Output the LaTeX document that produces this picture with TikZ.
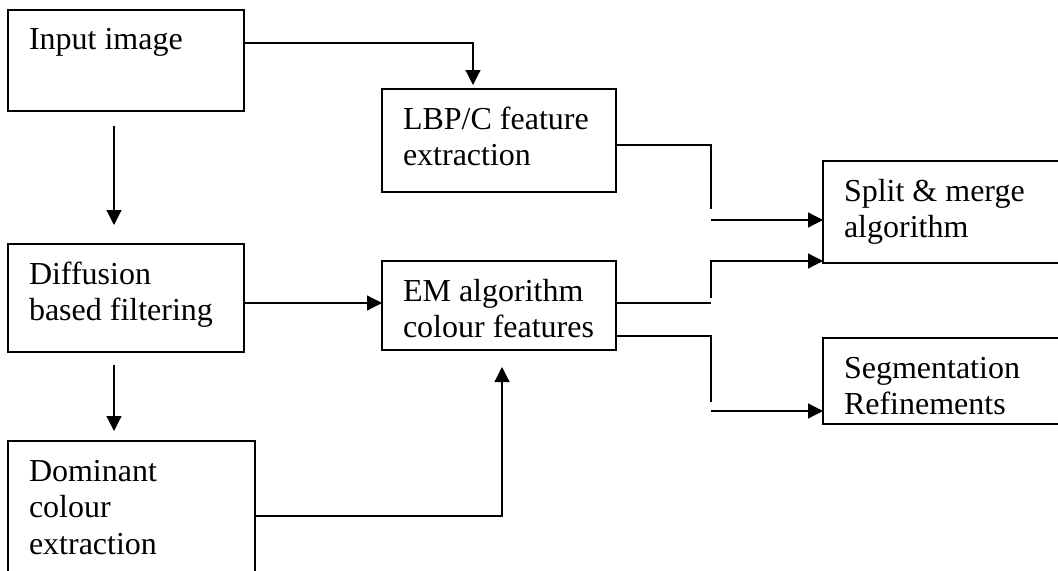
\documentclass[tikz,border=0pt]{standalone}
\usepackage{fontspec}
\setmainfont{Liberation Serif}
\usetikzlibrary{arrows.meta,calc}
% box content: width, height, lines; text set from the top, indented
\newcommand\boxtext[3]{\parbox[t][#2][t]{#1}{\raggedright\leftskip=15.75pt\rule{0pt}{30pt}#3}}
\begin{document}
\begin{tikzpicture}[x=0.75pt,y=-0.75pt,
  box/.style={draw, line width=0.9pt, inner sep=0pt, outer sep=0pt, anchor=north west,
    font=\fontsize{24pt}{27.4pt}\selectfont},
  link/.style={line width=0.9pt},
  flow/.style={link, -{Triangle[length=11.25pt,width=11.25pt]}}]
\clip (0,0) rectangle (1058,571);

% processing stages
\node[box] (input) at (8,10)   {\boxtext{177pt}{75.75pt}{Input image}};
\node[box] (lbp)   at (382,89) {\boxtext{175.5pt}{77.25pt}{LBP/C feature\\extraction}};
\node[box] (diff)  at (8,244)  {\boxtext{177pt}{81pt}{Diffusion\\based filtering}};
\node[box] (em)    at (382,261){\boxtext{175.5pt}{66.75pt}{EM algorithm\\colour features}};
\node[box] (dom)   at (8,441)  {\boxtext{185.25pt}{120pt}{Dominant\\colour\\extraction}};
\node[box] (split) at (823,161){\boxtext{195pt}{76.5pt}{Split \& merge\\algorithm}};
\node[box] (seg)   at (823,338){\boxtext{195pt}{64.5pt}{Segmentation\\Refinements}};

% left column
\draw[flow, shorten >=3pt] ($(input.north east)+(0,33)$) -| ($(lbp.north west)+(91,0)$);
\draw[flow, shorten <=11.25pt, shorten >=14.25pt] ($(input.south west)+(106,0)$) -- ($(diff.north west)+(106,0)$);
\draw[flow, shorten <=9.75pt, shorten >=7.5pt] ($(diff.south west)+(106,0)$) -- ($(dom.north west)+(106,0)$);
\draw[flow] ($(diff.north east)+(0,59)$) -- ($(em.north west)+(0,42)$);
\draw[flow, shorten >=12.75pt] ($(dom.north east)+(0,75)$) -| ($(em.south west)+(120,0)$);

% joints of the right-hand connectors
\coordinate (bendA) at (711,209);
\coordinate (bendB) at (711,220);
\coordinate (bendC) at (711,303);
\coordinate (bendD) at (711,298);
\coordinate (bendE) at (711,402);
\coordinate (bendF) at (711,411);

\draw[link] ($(lbp.north east)+(0,56)$) -| (bendA);
\draw[flow] (bendB) -- (bendB -| split.west);
\draw[link] ($(em.north east)+(0,42)$) -- (bendC);
\draw[flow] (bendD) |- ($(split.south west)+(0,-2)$);
\draw[link] ($(em.north east)+(0,75)$) -| (bendE);
\draw[flow] (bendF) -- (bendF -| seg.west);
\end{tikzpicture}
\end{document}
